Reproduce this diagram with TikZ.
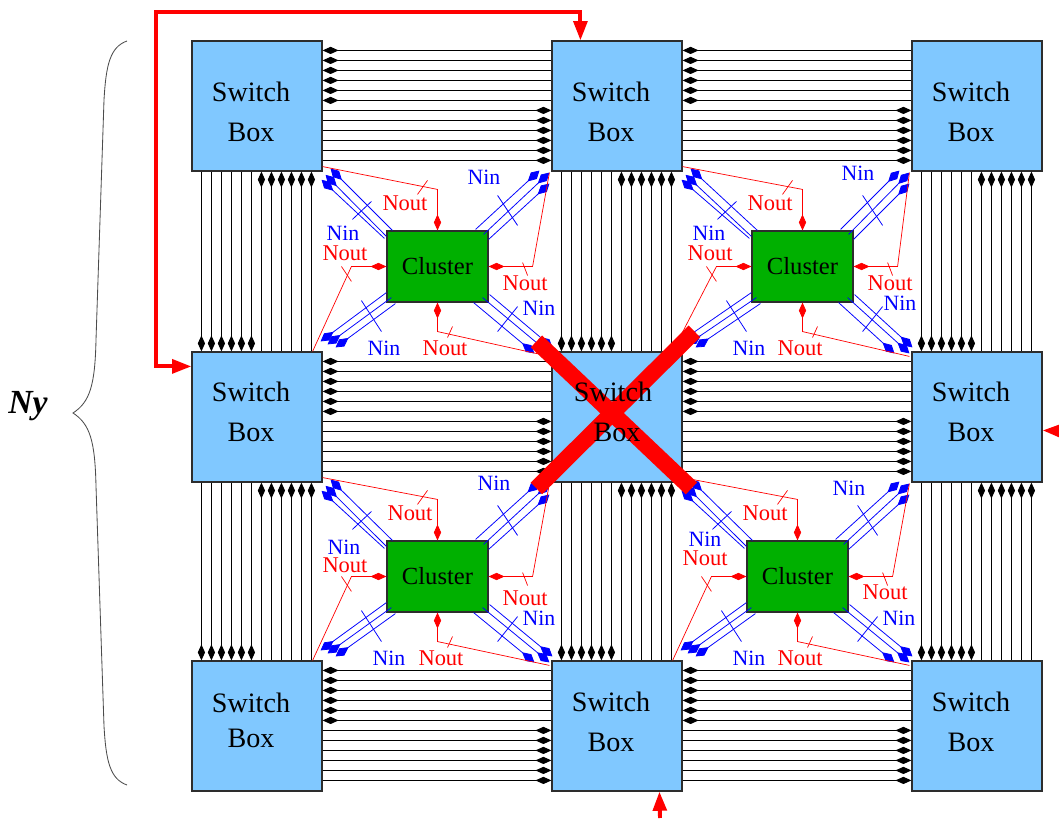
\documentclass[tikz,border=0pt]{standalone}
\usepackage{fontspec}
\setmainfont{Liberation Serif}
\usetikzlibrary{arrows.meta,calc}
\definecolor{swblue}{RGB}{128,200,255}
\definecolor{clgreen}{RGB}{0,176,0}
\definecolor{edge}{RGB}{45,45,45}
\tikzset{
  >={Kite[length=4mm,width=1.8mm,inset=2mm]},
  switchbox/.style={draw=edge,fill=swblue,line width=0.8pt,minimum size=3.25cm,inner sep=0pt},
  boxtext/.style={font=\fontsize{20}{28.45}\selectfont,align=center,inner sep=0pt},
  clusterbox/.style={draw=edge,fill=clgreen,line width=0.8pt,minimum width=2.525cm,minimum height=1.775cm,
    font=\fontsize{17.5}{20}\selectfont,inner sep=0pt},
  wire/.style={black,line width=0.75pt},
  nin/.style={blue,line width=0.55pt,>={Kite[length=4mm,width=2.2mm,inset=2.1mm]}},
  nout/.style={red,line width=0.5pt},
  ninlabel/.style={font=\fontsize{15.5}{18}\selectfont,text=blue,inner sep=0pt},
  noutlabel/.style={font=\fontsize{16}{18}\selectfont,text=red,inner sep=0pt},
  feed/.style={red,line width=2.8pt,>={Triangle[length=4.8mm,width=3.4mm]}},
  crossbar/.style={red,line width=0.41cm},
}
\begin{document}
\begin{tikzpicture}[x=0.025cm,y=-0.025cm]
  \useasboundingbox (0,0) rectangle (1059,819);
  % switch boxes
  \foreach \n/\x/\y/\d/\g in {b11/257/106/6/0pt,b12/617/106/6/0pt,b13/977/106/6/0pt,
    b21/257/417/-5/0pt,b23/977/417/-5/0pt,
    b31/257/726/-6/-3.5pt,b32/617/726/-4/0pt,b33/977/726/-4/0pt}{
    \node[switchbox] (\n) at (\x,\y) {};
    \node[boxtext] (\n-t) at ($(\n)+(-6,\d)$) {Switch\\[\g]Box};
  }
  \node[switchbox] (b22) at (617,417) {};
  % clusters
  \foreach \n/\x/\y in {c11/437.5/266.5,c12/802.5/266.5,c21/437.5/576.5,c22/797.5/576.5}
    \node[clusterbox] (\n) at (\x,\y) {Cluster\hspace{2.5mm}};
  % horizontal wires
  \foreach \a/\b in {b11/b12,b12/b13,b21/b22,b22/b23,b31/b32,b32/b33}{
    \foreach \i in {0,...,5}
      \draw[wire,<-] ($(\a.north east)+(0,10+10*\i)$) -- ($(\b.north west)+(0,10+10*\i)$);
    \foreach \i in {6,...,11}
      \draw[wire,->] ($(\a.north east)+(0,10+10*\i)$) -- ($(\b.north west)+(0,10+10*\i)$);
  }
  % vertical wires
  \foreach \a/\b in {b11/b21,b21/b31,b12/b22,b22/b32,b13/b23,b23/b33}{
    \foreach \i in {0,...,5}
      \draw[wire,->] ($(\a.south west)+(10+10*\i,0)$) -- ($(\b.north west)+(10+10*\i,0)$);
    \foreach \i in {6,...,11}
      \draw[wire,<-] ($(\a.south west)+(10+10*\i,0)$) -- ($(\b.north west)+(10+10*\i,0)$);
  }
  % cluster links
  \foreach \c/\bnw/\bne/\bsw/\bse in {c11/b11/b12/b21/b22,c12/b12/b13/b22/b23,c21/b21/b22/b31/b32,c22/b22/b23/b32/b33}{
    % three inputs per corner
    \foreach \p/\q in {6/8,0/3,-2/-1}
      \draw[nin,->] ($(\c.north west)+(\p,6-\p)$) -- ($(\bnw.south east)+(\q,7-\q*1.25)$);
    \foreach \p/\q/\r/\s in {-13/-1/-12/-1,-5/4/-2/1,0/9/-2/12}
      \draw[nin,->] ($(\c.north east)+(\p,\q)$) -- ($(\bne.south west)+(\r,\s)$);
    \foreach \p/\q/\r/\s in {0/-10/-2/-10,5/-5/5/-7,9/1/13/-4}
      \draw[nin,->] ($(\c.south west)+(\p,\q)$) -- ($(\bsw.north east)+(\r,\s)$);
    \foreach \p/\q/\r/\s in {1/-8/1/-4,-6/-5/-2/2,-15/0/-17/2}
      \draw[nin,->] ($(\c.south east)+(\p,\q)$) -- ($(\bse.north west)+(\r,\s)$);
    \draw[nin] ($(\c.north west)+(-34,-11)$) -- ($(\c.north west)+(-15,-29)$);
    \draw[nin] ($(\c.north east)+(9,-35)$) -- ($(\c.north east)+(29,-5)$);
    \draw[nin] ($(\c.south west)+(-25,-2)$) -- ($(\c.south west)+(-5,29)$);
    \draw[nin] ($(\c.south east)+(29,4)$) -- ($(\c.south east)+(9,29)$);
    % outputs into the cluster
    \draw[nout,->] ($(\bnw.south east)+(0,-5)$) -- ($(\c.north)+(0,-41)$) -- (\c.north);
    \draw[nout,->] ($(\bsw.north east)+(-10,0)$) -- ($(\c.west)+(-35,0)$) -- (\c.west);
    \draw[nout,->] ($(\bne.south west)+(-2,1)$) -- ($(\c.east)+(44,0)$) -- (\c.east);
    \draw[nout,->] ($(\bse.north west)+(-2,5)$) -- ($(\c.south)+(0,29)$) -- (\c.south);
    \draw[nout] ($(\c.north)+(-20,-36)$) -- ($(\c.north)+(-10,-50)$);
    \draw[nout] ($(\c.west)+(-45,0)$) -- ($(\c.west)+(-35,15)$);
    \draw[nout] ($(\c.east)+(34,-4)$) -- ($(\c.east)+(39,9)$);
    \draw[nout] ($(\c.south)+(10,35)$) -- ($(\c.south)+(15,24)$);
  }
  % link labels
  \foreach \x/\y/\t/\k [count=\i] in {
    343/233/Nin/ninlabel,405/203/Nout/noutlabel,345/253/Nout/noutlabel,484/177/Nin/ninlabel,
    525/283/Nout/noutlabel,539/308/Nin/ninlabel,384/348/Nin/ninlabel,445/348/Nout/noutlabel,
    709/233/Nin/ninlabel,770/203/Nout/noutlabel,710/253/Nout/noutlabel,858/173/Nin/ninlabel,
    890/283/Nout/noutlabel,900/303/Nin/ninlabel,749/348/Nin/ninlabel,800/348/Nout/noutlabel,
    344/547/Nin/ninlabel,410/513/Nout/noutlabel,345/565/Nout/noutlabel,494/483/Nin/ninlabel,
    525/598/Nout/noutlabel,539/618/Nin/ninlabel,389/658/Nin/ninlabel,441/658/Nout/noutlabel,
    705/539/Nin/ninlabel,765/513/Nout/noutlabel,705/558/Nout/noutlabel,849/488/Nin/ninlabel,
    885/592/Nout/noutlabel,899/618/Nin/ninlabel,749/658/Nin/ninlabel,800/658/Nout/noutlabel}
    \node[\k] (lab\i) at (\x,\y) {\t};
  % routed feeds
  \coordinate (fa) at (156,12);
  \coordinate (fb) at (1062,431);
  \coordinate (fc) at (660,818);
  \draw[feed,<->] ($(b21.north west)+(0,15)$) -| (fa) -| ($(b12.north west)+(29,0)$);
  \draw[feed,->] (fb) -- ($(b23.north east)+(0,79)$);
  \draw[feed,->] (fc) -- ($(b32.south west)+(108,0)$);
  % brace and its label
  \draw[black!70,line width=0.6pt] (127,41) .. controls (110,47) and (106,65) .. (104,100) -- (96,340)
    .. controls (95,385) and (90,402) .. (73,413) .. controls (90,424) and (95,441) .. (96,486)
    -- (104,726) .. controls (106,761) and (110,779) .. (127,785);
  \node[font=\fontsize{24}{26}\selectfont\bfseries\itshape,inner sep=0pt] (ny) at (28,406) {Ny};
  % failed switch, its text stays on top
  \draw[crossbar] ($(b22.north west)+(-15,-10)$) -- ($(b22.north west)+(140,137)$);
  \draw[crossbar] ($(b22.north west)+(143,-20)$) -- ($(b22.north west)+(-15,137)$);
  \node[boxtext] (b22-t) at ($(b22)+(-4,-5)$) {Switch\\\hspace{2mm}Box};
\end{tikzpicture}
\end{document}
